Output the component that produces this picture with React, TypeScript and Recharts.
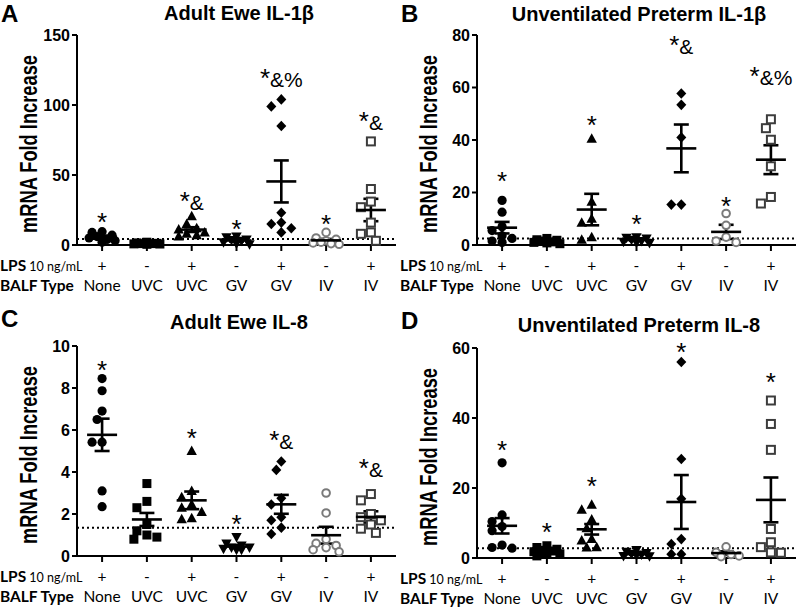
import React from 'react';
import { ScatterChart, Scatter, XAxis, YAxis, ReferenceLine, ErrorBar } from 'recharts';

const categories = ['None', 'UVC', 'UVC', 'GV', 'GV', 'IV', 'IV'];
const lpsSigns = ['+', '-', '+', '-', '+', '-', '+'];
const groupTicks = [0, 1, 2, 3, 4, 5, 6];

// A - adult ewe IL-1β
const eweIl1bPoints = [
  [9.5, 9, 7, 6, 5, 4, 3, 2],
  [2, 1.5, 1.2, 1, 1, 0.8, 0.7, 0.5],
  [20.5, 15, 12, 11, 9, 8, 7, 6],
  [6, 5.5, 4, 3.5, 3, 2, 1, 0.5],
  [104, 99, 85, 23, 16, 15, 12, 9],
  [9, 5, 4, 3, 2, 1.5, 1, 0.5],
  [74, 40, 31, 27, 16, 9, 8, 3],
];
const eweIl1bMeans = [5.8, 1.1, 11, 3.2, 45.4, 3.3, 25];
const eweIl1bSems = [0.9, 0.2, 1.7, 0.7, 15, 1, 8];
const eweIl1bMarks = ['*', '', '*&', '*', '*&%', '*', '*&'];
const eweIl1bMarkY = [19, 0, 30, 14, 118, 18, 87];

// B - unventilated preterm IL-1β
const pretermIl1bPoints = [
  [17, 12.5, 7, 5.5, 3.5, 2.5, 1.5, 1],
  [2.5, 2, 1.8, 1.5, 1.2, 1, 0.8, 0.5],
  [40.5, 16.5, 10, 8.5, 3, 2],
  [3, 2.8, 2.5, 2, 1.5, 1.2, 1, 0.8],
  [57.7, 53.4, 41, 15.4, 15.4],
  [12, 7.5, 3, 1.5, 1],
  [47.9, 44.5, 40.1, 30, 18.3, 15.8],
];
const pretermIl1bMeans = [6.6, 1.4, 13.5, 1.9, 36.8, 5.0, 32.5];
const pretermIl1bSems = [2.2, 0.25, 6, 0.3, 9.1, 2.7, 5.5];
const pretermIl1bMarks = ['*', '', '*', '*', '*&', '*', '*&%'];
const pretermIl1bMarkY = [25.8, 0, 47.2, 9.4, 75.6, 16.4, 63.6];

// C - adult ewe IL-8
const eweIl8Points = [
  [8.45, 7.87, 6.9, 6.5, 5.42, 5.42, 3.1, 2.35],
  [3.45, 2.6, 2.3, 1.5, 1.2, 1.0, 0.9, 0.8],
  [5.0, 3.1, 2.8, 2.45, 2.3, 2.1, 1.8, 1.75],
  [0.9, 0.6, 0.5, 0.4, 0.4, 0.35, 0.3, 0.3],
  [4.5, 4.1, 2.75, 2.45, 1.85, 1.7, 1.35, 1.05],
  [3.0, 2.05, 0.8, 0.6, 0.5, 0.4, 0.3, 0.2],
  [2.95, 2.65, 2.0, 1.85, 1.7, 1.5, 1.3, 1.1],
];
const eweIl8Means = [5.77, 1.74, 2.65, 0.45, 2.46, 0.99, 1.86];
const eweIl8Sems = [0.77, 0.31, 0.42, 0.07, 0.45, 0.4, 0.27];
const eweIl8Marks = ['*', '', '*', '*', '*&', '', '*&'];
const eweIl8MarkY = [9.05, 0, 5.8, 1.7, 5.42, 0, 4.08];

// D - unventilated preterm IL-8
const pretermIl8Points = [
  [27.2, 12.3, 10.4, 9, 7.8, 3.7, 3, 2.8],
  [3.5, 3, 2.5, 2.2, 2, 1.8, 1.5, 1.2, 1, 0.6],
  [15.2, 13.8, 11, 8.5, 5.4, 5, 3.1, 3],
  [2.3, 1.8, 1.4, 1.2, 1, 0.8, 0.6, 0.5],
  [56, 28.3, 16.9, 5.4, 4, 1.1, 1.1],
  [3.2, 1.6, 1.0, 0.6, 0.4],
  [45, 38.3, 30.9, 8.3, 4.5, 3.1, 1.6, 1.5],
];
const pretermIl8Means = [9.2, 1.9, 8.2, 1.1, 16, 1.4, 16.6];
const pretermIl8Sems = [2.2, 0.3, 1.5, 0.2, 7.7, 0.5, 6.4];
const pretermIl8Marks = ['*', '*', '*', '', '*', '', '*'];
const pretermIl8MarkY = [32.1, 8.5, 21.7, 0, 60, 0, 51.5];

const panels = [
  { letter: 'A', title: 'Adult Ewe IL-1β', left: 0, top: 0, yMax: 150, yTicks: [0, 50, 100, 150], refY: 4.3,
    points: eweIl1bPoints, means: eweIl1bMeans, sems: eweIl1bSems, marks: eweIl1bMarks, markY: eweIl1bMarkY, letterY: 22, titleY: 20 },
  { letter: 'B', title: 'Unventilated Preterm IL-1β', left: 400, top: 0, yMax: 80, yTicks: [0, 20, 40, 60, 80], refY: 2.5,
    points: pretermIl1bPoints, means: pretermIl1bMeans, sems: pretermIl1bSems, marks: pretermIl1bMarks, markY: pretermIl1bMarkY, letterY: 22, titleY: 20.5 },
  { letter: 'C', title: 'Adult Ewe IL-8', left: 0, top: 311, yMax: 10, yTicks: [0, 2, 4, 6, 8, 10], refY: 1.34,
    points: eweIl8Points, means: eweIl8Means, sems: eweIl8Sems, marks: eweIl8Marks, markY: eweIl8MarkY, letterY: 15.5, titleY: 17.5 },
  { letter: 'D', title: 'Unventilated Preterm IL-8', left: 400, top: 313, yMax: 60, yTicks: [0, 20, 40, 60], refY: 2.8,
    points: pretermIl8Points, means: pretermIl8Means, sems: pretermIl8Sems, marks: pretermIl8Marks, markY: pretermIl8MarkY, letterY: 15.5, titleY: 18.5 },
];

const CHART_W = 400;
const CHART_H = 297;
const PLOT_TOP = 35;
const AXIS_W = 77;
const RIGHT = 4;
const X_AXIS_H = 52;
const plotH = CHART_H - PLOT_TOP - X_AXIS_H;
const plotW = CHART_W - AXIS_W - RIGHT;
const xDomain = [-0.56, 6.56];
const unitPx = plotW / (xDomain[1] - xDomain[0]);

const ARIAL = '"Liberation Sans", Arial, sans-serif';
const LABEL_FONT = 'Lato, "Open Sans", sans-serif';

// simple beeswarm, offsets in px turned into category units
function spread(values: number[], pxPerUnit: number) {
  const placed: { dx: number; py: number }[] = [];
  const order = values.map((_, i) => i).sort((a, b) => values[b] - values[a]);
  const out: number[] = new Array(values.length).fill(0);
  const minDist = 9;
  const cands = [0, -5, 5, -10, 10, -13, 13];
  for (const i of order) {
    const py = values[i] * pxPerUnit;
    let best = 0;
    let bestScore = -1;
    for (const c of cands) {
      let m = Infinity;
      for (const p of placed) m = Math.min(m, Math.hypot(p.dx - c, p.py - py));
      if (m >= minDist) { best = c; break; }
      if (m > bestScore) { bestScore = m; best = c; }
    }
    placed.push({ dx: best, py });
    out[i] = best / unitPx;
  }
  return out;
}

const markerFor = (g: number) => (props: any) => {
  const { cx, cy } = props;
  if (cx == null || cy == null) return <g />;
  switch (g) {
    case 0:
      return <circle cx={cx} cy={cy} r={4.6} fill="#000" />;
    case 1:
      return <rect x={cx - 4.5} y={cy - 4.5} width={9} height={9} fill="#000" />;
    case 2:
      return <polygon points={`${cx},${cy - 5.5} ${cx + 5.2},${cy + 4} ${cx - 5.2},${cy + 4}`} fill="#000" />;
    case 3:
      return <polygon points={`${cx},${cy + 5.5} ${cx + 5.2},${cy - 4} ${cx - 5.2},${cy - 4}`} fill="#000" />;
    case 4:
      return <polygon points={`${cx},${cy - 5.3} ${cx + 5},${cy} ${cx},${cy + 5.3} ${cx - 5},${cy}`} fill="#000" />;
    case 5:
      return <circle cx={cx} cy={cy} r={3.8} fill="#fff" stroke="#7a7a7a" strokeWidth={2} />;
    default:
      return <rect x={cx - 4} y={cy - 4} width={8} height={8} fill="#fff" stroke="#3c3c3c" strokeWidth={2} />;
  }
};

const MeanLine = (props: any) => {
  const { cx, cy } = props;
  if (cx == null || cy == null) return <g />;
  return <line x1={cx - 15} x2={cx + 15} y1={cy} y2={cy} stroke="#000" strokeWidth={2.6} />;
};

// star drawn a bit larger than the & and % that follow it
const MarkText = (props: any) => {
  const { cx, cy, payload } = props;
  if (cx == null || cy == null) return <g />;
  const label = payload.label as string;
  const rest = label.slice(1);
  return (
    <text x={cx} y={cy + (rest ? 7 : 13)} textAnchor="middle" fontFamily={ARIAL} fill="#000">
      <tspan fontSize={26}>*</tspan>
      {rest && <tspan fontSize={21}>{rest}</tspan>}
    </text>
  );
};

const CategoryTick = (props: any) => {
  const { x, y, payload } = props;
  const i = Math.round(payload.value);
  return (
    <g>
      <text x={x} y={y + 20} textAnchor="middle" fontFamily={LABEL_FONT} fontSize={15.5} fill="#000">{lpsSigns[i]}</text>
      <text x={x} y={y + 40} textAnchor="middle" fontFamily={LABEL_FONT} fontSize={15.5} fill="#000">{categories[i]}</text>
    </g>
  );
};

function Panel({ p }: { p: typeof panels[number] }) {
  const pxPerUnit = plotH / p.yMax;
  const series = p.points.map((vals, g) => {
    const offs = spread(vals, pxPerUnit);
    return vals.map((v, k) => ({ x: g + offs[k], y: v }));
  });
  const meanData = p.means.map((m, g) => ({ x: g, y: m, sem: p.sems[g] }));
  const markData = p.marks
    .map((t, g) => ({ x: g, y: p.markY[g], label: t }))
    .filter((d) => d.label !== '');

  return (
    <div style={{ position: 'absolute', left: p.left, top: p.top, width: CHART_W, height: CHART_H }}>
      <ScatterChart width={CHART_W} height={CHART_H} margin={{ top: PLOT_TOP, right: RIGHT, bottom: 0, left: 0 }} style={{ overflow: 'visible' }}>
        <XAxis
          type="number"
          dataKey="x"
          domain={xDomain}
          ticks={groupTicks}
          interval={0}
          height={X_AXIS_H}
          tickSize={6}
          tickMargin={0}
          tick={CategoryTick}
          axisLine={{ stroke: '#000', strokeWidth: 2 }}
          tickLine={{ stroke: '#000', strokeWidth: 2 }}
        />
        <YAxis
          type="number"
          dataKey="y"
          domain={[0, p.yMax]}
          ticks={p.yTicks}
          interval={0}
          width={AXIS_W}
          tickSize={5}
          tickMargin={2}
          tick={{ fill: '#000', fontSize: 16, fontWeight: 'bold', fontFamily: ARIAL }}
          axisLine={{ stroke: '#000', strokeWidth: 2 }}
          tickLine={{ stroke: '#000', strokeWidth: 2 }}
        />
        <ReferenceLine y={p.refY} stroke="#000" strokeWidth={2} strokeDasharray="2 3" />
        {series.map((d, g) => (
          <Scatter key={g} data={d} shape={markerFor(g)} isAnimationActive={false} />
        ))}
        <Scatter data={meanData} shape={MeanLine} isAnimationActive={false}>
          <ErrorBar dataKey="sem" direction="y" width={7.5} stroke="#000" strokeWidth={2.6} isAnimationActive={false} />
        </Scatter>
        <Scatter data={markData} shape={MarkText} isAnimationActive={false} />
      </ScatterChart>
    </div>
  );
}

export default function App() {
  return (
    <div style={{ position: 'absolute', left: 0, top: 0, width: 800, height: 608, background: '#fff', overflow: 'hidden' }}>
      {panels.map((p) => (
        <Panel key={p.letter} p={p} />
      ))}
      <svg width={800} height={608} style={{ position: 'absolute', left: 0, top: 0, pointerEvents: 'none' }}>
        {panels.map((p) => {
          const midY = p.top + PLOT_TOP + plotH / 2 + 4;
          return (
            <g key={p.letter}>
              <text x={p.left + 1} y={p.top + p.letterY} fontFamily={ARIAL} fontWeight="bold" fontSize={24} fill="#000">{p.letter}</text>
              <text x={p.left + 239} y={p.top + p.titleY} textAnchor="middle" fontFamily={ARIAL} fontWeight="bold" fontSize={20} fill="#000">{p.title}</text>
              <text
                x={p.left + 37}
                y={midY}
                transform={`rotate(-90, ${p.left + 37}, ${midY})`}
                textAnchor="middle"
                fontFamily={ARIAL}
                fontWeight="bold"
                fontSize={23}
                textLength={178}
                lengthAdjust="spacingAndGlyphs"
                fill="#000"
              >
                mRNA Fold Increase
              </text>
              <text x={p.left} y={p.top + 271} fontFamily={LABEL_FONT} fill="#000">
                <tspan fontWeight="bold" fontSize={15.5}>LPS</tspan>
                <tspan fontSize={12.5}> 10 ng/mL</tspan>
              </text>
              <text x={p.left} y={p.top + 291} fontFamily={LABEL_FONT} fontWeight="bold" fontSize={15.5} fill="#000">BALF Type</text>
            </g>
          );
        })}
      </svg>
    </div>
  );
}
